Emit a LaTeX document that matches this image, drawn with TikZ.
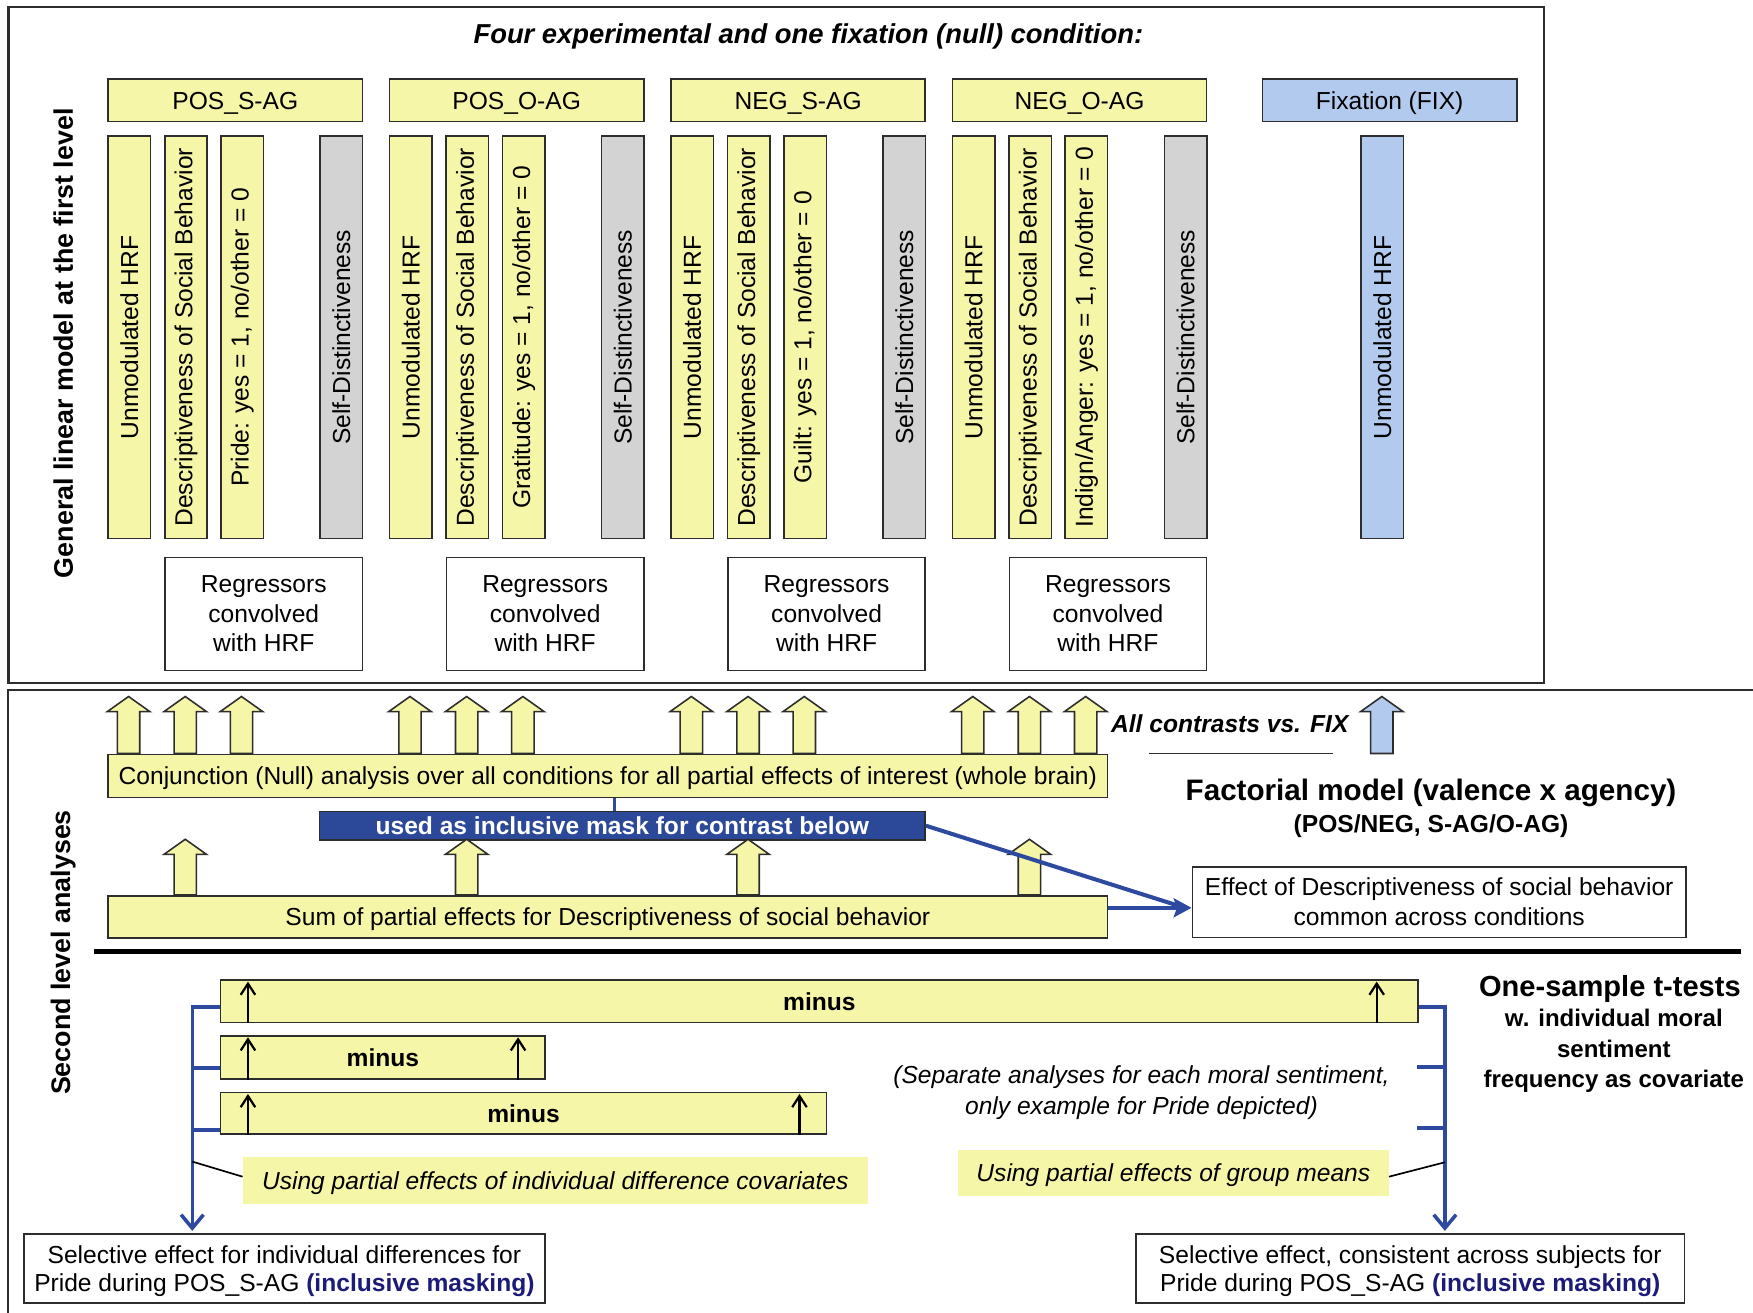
\documentclass[tikz,border=0pt]{standalone}
\usepackage{fontspec}
\setmainfont{Liberation Sans}
\usetikzlibrary{arrows.meta,calc}
\definecolor{yel}{RGB}{246,246,168}
\definecolor{gry}{RGB}{211,211,211}
\definecolor{lblue}{RGB}{178,202,238}
\definecolor{dblue}{RGB}{44,72,152}
\definecolor{lineblue}{RGB}{46,74,160}
\definecolor{navy}{RGB}{28,28,120}
\definecolor{frame}{RGB}{45,45,45}
\newcommand\blockup[4]{%
  \draw[frame, line width=1.4pt, line join=miter, fill=#4]
    (#1-10,#3) -- (#1-10,#2+13.5) -- (#1-19,#2+13.5) -- (#1,#2) --
    (#1+19,#2+13.5) -- (#1+10,#2+13.5) -- (#1+10,#3) -- cycle;}
\tikzset{
  fs/.style={font=\fontsize{22}{26.5}\selectfont},
  fsb/.style={font=\fontsize{22}{26.5}\selectfont\bfseries},
  fsi/.style={font=\fontsize{22}{27}\selectfont\itshape},
  one/.style={text height=15.8pt, text depth=0pt},
  box/.style={draw=frame, line width=1.4pt, inner sep=0pt, fs, anchor=north west},
  hdr/.style={box, one, fill=yel, minimum width=227.5pt, minimum height=38pt},
  bar/.style={box, minimum width=38pt, minimum height=360pt},
  regbox/.style={box, fill=white, minimum width=176.5pt, minimum height=101pt, align=center},
  bl/.style={lineblue, line width=3.6pt},
  barb/.style={-{Straight Barb[length=12pt,width=20pt]}},
  sarr/.style={black, line width=2pt, -{Straight Barb[length=10pt,width=13pt]}},
  lab/.style={fill=yel, inner sep=0pt, fsi, one, anchor=north west},
  leader/.style={black, line width=1.5pt}
}
\begin{document}
\begin{tikzpicture}[x=1pt,y=-1pt]
\useasboundingbox (0,0) rectangle (1568,1174);
\fill[white] (0,0) rectangle (1568,1174);
% frames
\draw[frame, line width=2pt] (7.5,6.6) rectangle (1381,611);
\draw[frame, line width=1.6pt] (1568,617) -- (7.5,617) -- (7.5,1180);

\node[font=\fontsize{24.5}{28}\selectfont\bfseries\itshape, text height=17.5pt, text depth=0pt] (title) at (723,30.5)
  {Four experimental and one fixation (null) condition:};

\foreach \i/\cond/\emo in {0/POS\_S-AG/Pride, 1/POS\_O-AG/Gratitude, 2/NEG\_S-AG/Guilt, 3/NEG\_O-AG/{Indign/Anger}} {
  \pgfmathsetmacro\xo{96+251.7*\i}
  \node[hdr] (h\i) at (\xo,70) {\cond};
  \node[bar, fill=yel] (u\i) at (\xo,121) {\rotatebox{90}{Unmodulated HRF}};
  \node[bar, fill=yel] (d\i) at (\xo+50.7,121) {\rotatebox{90}{Descriptiveness of Social Behavior}};
  \node[bar, fill=yel] (e\i) at (\xo+101,121) {\rotatebox{90}{\emo: yes = 1, no/other = 0}};
  \node[bar, fill=gry] (s\i) at (\xo+189.7,121) {\rotatebox{90}{Self-Distinctiveness}};
  \node[regbox] (r\i) at (\xo+51,498) {Regressors\\convolved\\with HRF};
}
\node[hdr, fill=lblue] (hfix) at (1128.5,70) {Fixation (FIX)};
\node[bar, fill=lblue] (ufix) at (1216.8,121) {\rotatebox{90}{Unmodulated HRF}};

\node[rotate=90, font=\fontsize{24}{28}\selectfont\bfseries] (glm) at (56.5,307)
  {General linear model at the first level};
\node[rotate=90, font=\fontsize{24}{28}\selectfont\bfseries] (sla) at (56.5,852)
  {Second level analyses};

% ---- second level
\node[box, one, fill=yel, minimum width=894pt, minimum height=38.5pt] (conj) at (96,674)
  {Conjunction (Null) analysis over all conditions for all partial effects of interest (whole brain)};
\foreach \i in {0,...,3} {
  \pgfmathsetmacro\xo{96+251.7*\i}
  \foreach \dx in {19,69.7,120} {\blockup{\xo+\dx}{623}{674}{yel}}
}
\blockup{1236}{623}{674}{lblue}
\node[font=\fontsize{22}{26.5}\selectfont\bfseries\itshape, one] (allc) at (1100,647) {All contrasts vs. FIX};
\draw[frame, line width=1.5pt] (1028,674) -- (1192,674);

\node[box, one, fill=dblue, text=white, fsb, minimum width=541.8pt, minimum height=25.7pt] (mask) at (285,725)
  {used as inclusive mask for contrast below};
\coordinate (cm) at (549.6,0);
\draw[lineblue, line width=2pt] (conj.south -| cm) -- (mask.north -| cm);

\node[box, one, fill=yel, minimum width=894pt, minimum height=38pt] (sum) at (96,800.5)
  {Sum of partial effects for Descriptiveness of social behavior};
\foreach \i in {0,...,3} {\blockup{96+251.7*\i+69.7}{750.7}{800.5}{yel}}

\node[box, minimum width=441.6pt, minimum height=63.2pt, align=center, font=\fontsize{22}{27}\selectfont] (eff) at (1065.8,774.6)
  {Effect of Descriptiveness of social behavior\\common across conditions};
\coordinate (tip) at (1065.8,812);
\draw[bl] (mask.east) -- ($(tip)+(-9,-1)$);
\draw[bl, -{Stealth[length=16pt,width=17pt,inset=3pt]}] (tip -| sum.east) -- (tip);

\node[font=\fontsize{26.5}{30}\selectfont\bfseries, text height=19pt, text depth=0pt] (fact) at (1280,706.6) {Factorial model (valence x agency)};
\node[fsb, one] (fact2) at (1280,736.4) {(POS/NEG, S-AG/O-AG)};

\draw[black, line width=4.2pt] (84,851) -- (1557,851);

% ---- one-sample t-tests
\node[box, one, fill=yel, fsb, minimum width=1071pt, minimum height=38pt] (m1) at (196.7,876) {minus};
\node[box, one, fill=yel, fsb, minimum width=290.1pt, minimum height=38.7pt] (m2) at (196.7,925.8) {minus};
\node[box, one, fill=yel, fsb, minimum width=541.7pt, minimum height=37.2pt] (m3) at (196.7,976.5) {minus};
\draw[sarr] ($(m1.south west)+(25.1,0)$) -- ($(m1.north west)+(25.1,2)$);
\draw[sarr] ($(m1.south east)+(-37.7,0)$) -- ($(m1.north east)+(-37.7,2)$);
\draw[sarr] ($(m2.south west)+(25.1,0)$) -- ($(m2.north west)+(25.1,2)$);
\draw[sarr] ($(m2.south east)+(-24.8,0)$) -- ($(m2.north east)+(-24.8,2)$);
\draw[sarr] ($(m3.south west)+(25.1,0)$) -- ($(m3.north west)+(25.1,2)$);
\draw[sarr] ($(m3.south east)+(-24.7,0)$) -- ($(m3.north east)+(-24.7,2)$);

\node[box, minimum width=466.2pt, minimum height=62pt, align=center, text depth=0pt, font=\fontsize{22}{25.5}\selectfont] (selL) at (20.6,1103)
  {Selective effect for individual differences for\\Pride during POS\_S-AG \textbf{\color{navy}(inclusive masking)}};
\node[box, minimum width=490.9pt, minimum height=62pt, align=center, text depth=0pt, font=\fontsize{22}{25.5}\selectfont] (selR) at (1015.3,1103)
  {Selective effect, consistent across subjects for\\Pride during POS\_S-AG \textbf{\color{navy}(inclusive masking)}};

% left bracket
\coordinate (Lx) at (172,900.4);
\coordinate (t2) at ($(m2.south west)+(0,-10.5)$);
\coordinate (t3) at ($(m3.south west)+(0,-4.7)$);
\draw[bl, line cap=butt] (m1.west |- Lx) -- (Lx);
\draw[bl, line cap=butt] (t2) -- (t2 -| Lx);
\draw[bl, line cap=butt] (t3) -- (t3 -| Lx);
\draw[bl, line width=3.2pt, barb] ($(Lx)+(0,-1.8)$) -- ($(selL.north -| Lx)+(0,-2)$);
% right bracket
\coordinate (Rx) at (1292.4,900.4);
\coordinate (r2) at (1267.7,954);
\coordinate (r3) at (1267.7,1009);
\draw[bl, line cap=butt] (m1.east |- Rx) -- (Rx);
\draw[bl, line cap=butt] (r2) -- (r2 -| Rx);
\draw[bl, line cap=butt] (r3) -- (r3 -| Rx);
\draw[bl, line width=3.2pt, barb] ($(Rx)+(0,-1.8)$) -- ($(selR.north -| Rx)+(0,-2)$);

\node[lab, minimum width=559pt, minimum height=41.7pt] (lab1) at (217,1034.6)
  {Using partial effects of individual difference covariates};
\node[lab, minimum width=385.4pt, minimum height=41.8pt] (lab2) at (856.6,1028)
  {Using partial effects of group means};
\draw[leader] (172,1039) -- (lab1.west |- 0,1052.5);
\draw[leader] (lab2.east |- 0,1052.5) -- (1292.4,1039.6);

\node[fsi, align=center, text depth=0pt] (sep) at (1021,975)
  {(Separate analyses for each moral sentiment,\\only example for Pride depicted)};

\node[font=\fontsize{26}{30}\selectfont\bfseries, text height=18.6pt, text depth=0pt] (ost) at (1440,882) {One-sample t-tests};
\node[font=\fontsize{21.5}{26.9}\selectfont\bfseries, align=center, text depth=0pt] (ost2) at (1443.5,937.7)
  {w. individual moral\\sentiment\\frequency as covariate};
\end{tikzpicture}
\end{document}
